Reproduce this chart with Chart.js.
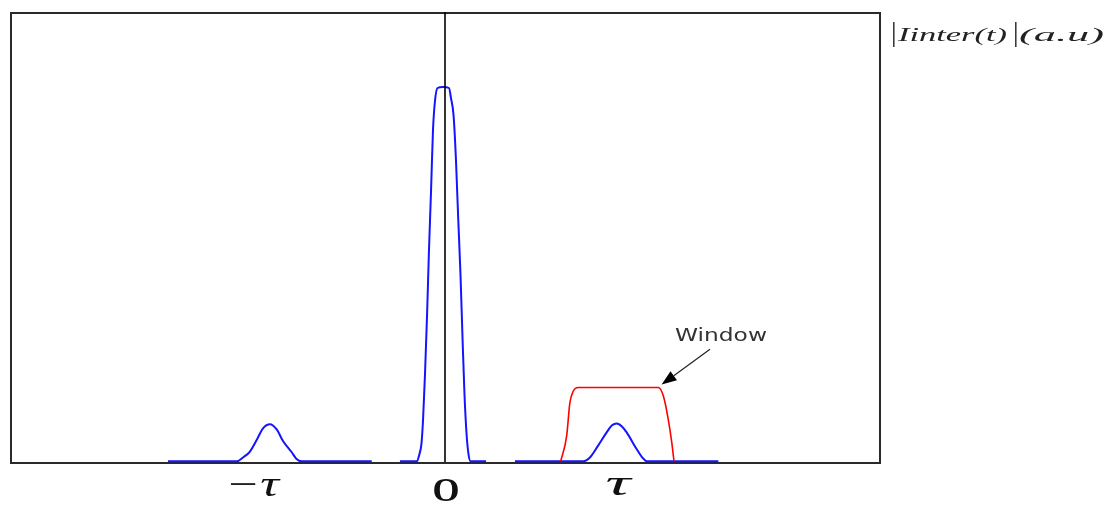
<!DOCTYPE html>
<html><head><meta charset="utf-8">
<script src="https://cdn.jsdelivr.net/npm/chart.js@4.4.1/dist/chart.umd.min.js"></script>
<style>html,body{margin:0;padding:0;background:#fff;overflow:hidden}canvas{display:block}</style>
</head><body>
<canvas id="c" width="1108" height="505"></canvas>
<script>
// time in units of tau, amplitude |Iinter(t)| normalised to the central peak
const negBandTime = [-1.592, -1.195, -1.161, -1.121, -1.080, -1.046, -1.006, -0.967, -0.931, -0.881, -0.853, -0.824, -0.421];
const negBandAmp  = [0, 0, 0.010, 0.026, 0.059, 0.088, 0.099, 0.085, 0.054, 0.024, 0.006, 0, 0];
const centralTime = [-0.259, -0.161, -0.147, -0.135, -0.126, -0.115, -0.103, -0.092, -0.080, -0.069, -0.057, -0.043, -0.011, 0.023, 0.034, 0.049, 0.063, 0.075, 0.089, 0.101, 0.112, 0.124, 0.135, 0.147, 0.236];
const centralAmp  = [0, 0, 0.019, 0.048, 0.112, 0.232, 0.392, 0.565, 0.725, 0.885, 0.965, 0.997, 1.0, 0.997, 0.971, 0.925, 0.805, 0.659, 0.499, 0.325, 0.179, 0.072, 0.019, 0, 0];
const posBandTime = [0.402, 0.795, 0.833, 0.879, 0.929, 0.960, 0.987, 1.017, 1.044, 1.102, 1.132, 1.159, 1.571];
const posBandAmp  = [0, 0, 0.010, 0.041, 0.077, 0.096, 0.101, 0.093, 0.077, 0.032, 0.011, 0, 0];
const windowTime  = [0.665, 0.699, 0.718, 0.737, 0.766, 1.226, 1.255, 1.283, 1.303, 1.316];
const windowAmp   = [0, 0.067, 0.157, 0.187, 0.197, 0.197, 0.174, 0.112, 0.051, 0];
const originTime  = [0, 0];
const originAmp   = [-0.002, 1.2];
const tickValues  = [-1, 0, 1];
const tickLabels  = ['−τ', 'O', 'τ'];
const yTitle      = ['Iinter(t)', '(a.u)'];
const windowLabel = 'Window';

const pts = (t, a) => t.map((v, i) => ({x: v, y: a[i]}));

function stretchText(ctx, text, font, x, y, width, align) {
  ctx.save();
  ctx.font = font;
  const w = ctx.measureText(text).width;
  const sx = width / w;
  const left = align === 'center' ? x - width / 2 : align === 'right' ? x - width : x;
  ctx.translate(left, y);
  ctx.scale(sx, 1);
  ctx.textAlign = 'left';
  ctx.textBaseline = 'alphabetic';
  ctx.fillText(text, 0, 0);
  ctx.restore();
}

const framePlugin = {
  id: 'frame',
  beforeDatasetsDraw(chart) {
    const {ctx, chartArea: a} = chart;
    ctx.save();
    ctx.strokeStyle = '#2a2a2a';
    ctx.lineWidth = 2;
    ctx.strokeRect(a.left + 1, a.top + 1, a.right - a.left - 1, a.bottom - a.top);
    ctx.restore();
  },
  afterDatasetsDraw(chart) {
    const {ctx, chartArea: a, scales: {x, y}} = chart;
    ctx.save();
    ctx.fillStyle = '#111';
    // tick labels
    const p0 = x.getPixelForValue(tickValues[0]);
    const p1 = x.getPixelForValue(tickValues[1]);
    const p2 = x.getPixelForValue(tickValues[2]);
    stretchText(ctx, tickLabels[0], 'italic 36px "Liberation Serif"', p0 + 8, a.bottom + 34, 54, 'right');
    stretchText(ctx, tickLabels[1], 'bold 34px "Liberation Serif"', p1 + 1, a.bottom + 39, 27, 'center');
    stretchText(ctx, tickLabels[2], 'italic 36px "Liberation Serif"', p2 - 1, a.bottom + 33, 25, 'center');
    // y title
    const tx = a.right + 11;
    ctx.font = '28px "Liberation Serif"';
    ctx.fillStyle = '#222';
    ctx.fillText('|', tx, 41);
    stretchText(ctx, yTitle[0], 'italic 19px "Liberation Serif"', tx + 7, 41, 109, 'left');
    ctx.font = '28px "Liberation Serif"';
    ctx.fillText('|', tx + 122, 41);
    stretchText(ctx, yTitle[1], 'italic 19px "Liberation Serif"', tx + 128, 41, 85, 'left');
    // window annotation
    const lx = x.getPixelForValue(1.586), ly = y.getPixelForValue(0.32);
    ctx.fillStyle = '#333';
    stretchText(ctx, windowLabel, '17px "DejaVu Sans"', lx, ly, 92, 'center');
    const tailX = x.getPixelForValue(1.523), tailY = y.getPixelForValue(0.299);
    const tipX = x.getPixelForValue(1.245), tipY = y.getPixelForValue(0.205);
    const dx = tipX - tailX, dy = tipY - tailY, L = Math.hypot(dx, dy);
    const ux = dx / L, uy = dy / L;
    const hl = 15, hw = 5.5;
    const bx = tipX - ux * hl, by = tipY - uy * hl;
    ctx.strokeStyle = '#222';
    ctx.lineWidth = 1.2;
    ctx.beginPath(); ctx.moveTo(tailX, tailY); ctx.lineTo(bx, by); ctx.stroke();
    ctx.fillStyle = '#000';
    ctx.beginPath();
    ctx.moveTo(tipX, tipY);
    ctx.lineTo(bx - uy * hw, by + ux * hw);
    ctx.lineTo(bx + uy * hw, by - ux * hw);
    ctx.closePath(); ctx.fill();
    ctx.restore();
  }
};

const blue = 'rgb(20,20,255)';
const lineDs = (data, color, width, tension) => ({
  data, borderColor: color, borderWidth: width, pointRadius: 0, fill: false, clip: false,
  tension, cubicInterpolationMode: 'monotone'
});

new Chart(document.getElementById('c'), {
  type: 'line',
  data: {
    datasets: [
      lineDs(pts(originTime, originAmp), '#000', 1.6, 0),
      lineDs(pts(windowTime, windowAmp), '#ff0000', 1.6, 0.2),
      lineDs(pts(negBandTime, negBandAmp), blue, 2, 0.2),
      lineDs(pts(centralTime, centralAmp), blue, 2, 0),
      lineDs(pts(posBandTime, posBandAmp), blue, 2, 0.2)
    ]
  },
  options: {
    responsive: false,
    animation: false,
    devicePixelRatio: 1,
    layout: {padding: {left: 10, top: 12, right: 228, bottom: 43}},
    plugins: {legend: {display: false}, tooltip: {enabled: false}},
    scales: {
      x: {type: 'linear', min: -2.5, max: 2.5, display: false},
      y: {type: 'linear', min: -0.002, max: 1.2, display: false}
    }
  },
  plugins: [framePlugin]
});
</script>
</body></html>
